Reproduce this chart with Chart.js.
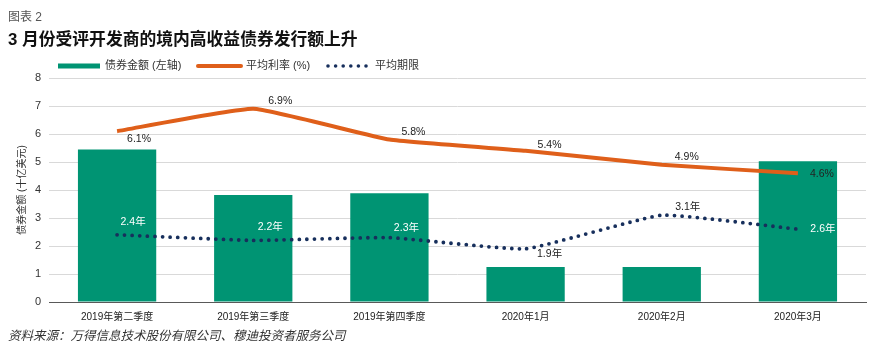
<!DOCTYPE html>
<html><head><meta charset="utf-8">
<script src="https://cdn.jsdelivr.net/npm/chart.js@4"></script>
<style>
html,body{margin:0;padding:0;background:#fff;}
body{width:877px;height:349px;position:relative;overflow:hidden;font-family:"Liberation Sans","Noto Sans CJK SC",sans-serif;}
#c{position:absolute;left:0;top:0;}
.t{position:absolute;white-space:nowrap;}
#fig{left:8px;top:7px;font-size:12px;color:#555;}
#title{left:8px;top:26px;font-size:16.8px;font-weight:bold;color:#111;}
#src{left:8px;top:325px;font-size:12.5px;font-style:italic;color:#333;}
</style></head>
<body>
<canvas id="c" width="877" height="349"></canvas>
<div class="t" id="fig">图表 2</div>
<div class="t" id="title">3 月份受评开发商的境内高收益债券发行额上升</div>
<div class="t" id="src">资料来源：万得信息技术股份有限公司、穆迪投资者服务公司</div>
<script>
const categories = ["2019年第二季度","2019年第三季度","2019年第四季度","2020年1月","2020年2月","2020年3月"];
const bondAmount = [5.45, 3.82, 3.88, 1.25, 1.25, 5.03];
const avgRate = [6.1, 6.9, 5.8, 5.4, 4.9, 4.6];
const avgTenor = [2.4, 2.2, 2.3, 1.9, 3.1, 2.6];
const rateLabels = ["6.1%","6.9%","5.8%","5.4%","4.9%","4.6%"];
const tenorLabels = ["2.4年","2.2年","2.3年","1.9年","3.1年","2.6年"];
const yTicks = [0,1,2,3,4,5,6,7,8];
const seriesNames = ["债券金额 (左轴)","平均利率 (%)","平均期限"];

const GREEN = "#009473", ORANGE = "#DF5F1A", NAVY = "#172F5C";
const FONT = '"Liberation Sans","Noto Sans CJK SC",sans-serif';

const rateOff = [[22,8],[27,-8],[24,-7],[24,-6],[25,-8],[24,1]];
const tenorOff = [[16,-13],[17,-13],[17,-9],[24,5],[26,-8],[25,0]];
const tenorColors = ["#fff","#fff","#fff","#222","#222","#fff"];

const labelPlugin = {
  id:'labels',
  afterDatasetsDraw(chart){
    const ctx = chart.ctx;
    ctx.save();
    ctx.font = '10.5px ' + FONT;
    ctx.textAlign = 'center';
    ctx.textBaseline = 'middle';
    const m1 = chart.getDatasetMeta(1), m2 = chart.getDatasetMeta(2);
    m1.data.forEach((p,i)=>{
      ctx.fillStyle = '#222';
      ctx.fillText(rateLabels[i], p.x + rateOff[i][0], p.y + rateOff[i][1]);
    });
    m2.data.forEach((p,i)=>{
      ctx.fillStyle = tenorColors[i];
      ctx.fillText(tenorLabels[i], p.x + tenorOff[i][0], p.y + tenorOff[i][1]);
    });
    ctx.restore();
  },
  afterDraw(chart){
    const ctx = chart.ctx;
    ctx.save();
    ctx.font = '11px ' + FONT;
    ctx.textBaseline = 'middle';
    const y = 66;
    ctx.fillStyle = GREEN;
    ctx.fillRect(58, 63.5, 42, 5);
    ctx.fillStyle = '#333';
    ctx.fillText(seriesNames[0], 105, y);
    ctx.strokeStyle = ORANGE; ctx.lineWidth = 4; ctx.lineCap='round';
    ctx.beginPath(); ctx.moveTo(198, y); ctx.lineTo(241, y); ctx.stroke();
    ctx.fillText(seriesNames[1], 246, y);
    ctx.fillStyle = NAVY;
    for(let k=0;k<6;k++){ ctx.beginPath(); ctx.arc(328 + k*7.6, y, 1.8, 0, Math.PI*2); ctx.fill(); }
    ctx.fillStyle = '#333';
    ctx.fillText(seriesNames[2], 375, y);
    ctx.restore();
  }
};

new Chart(document.getElementById('c'), {
  data:{
    labels: categories,
    datasets:[
      {type:'bar', label:seriesNames[0], data:bondAmount, backgroundColor:GREEN, categoryPercentage:1, barPercentage:0.575, order:3},
      {type:'line', label:seriesNames[1], data:avgRate, borderColor:ORANGE, borderWidth:4, pointRadius:0, tension:0.12, fill:false, order:1},
      {type:'line', label:seriesNames[2], data:avgTenor, borderColor:NAVY, borderWidth:3.8, borderDash:[0,7.6], borderCapStyle:'round', pointRadius:0, tension:0.12, fill:false, order:2}
    ]
  },
  options:{
    responsive:false, animation:false, devicePixelRatio:1,
    layout:{padding:{top:78,right:11,left:0,bottom:0}},
    plugins:{legend:{display:false}, tooltip:{enabled:false}},
    scales:{
      x:{
        offset:true,
        grid:{display:false, drawTicks:false},
        border:{display:true, color:'#595959', width:1},
        ticks:{font:{family:FONT,size:10}, color:'#222', padding:9, maxRotation:0},
        afterFit(s){ s.height = 47; }
      },
      y:{
        min:0, max:8,
        afterBuildTicks(s){ s.ticks = yTicks.map(v=>({value:v})); },
        grid:{color:'#d9d9d9', lineWidth:1, drawTicks:false},
        border:{display:false},
        ticks:{font:{family:FONT,size:11}, color:'#333', padding:8},
        title:{display:true, text:'债券金额 (十亿美元)', font:{family:FONT,size:10}, color:'#333', padding:{top:16,bottom:0}},
        afterFit(s){ s.width = 49; }
      }
    }
  },
  plugins:[labelPlugin]
});
</script>
</body></html>
